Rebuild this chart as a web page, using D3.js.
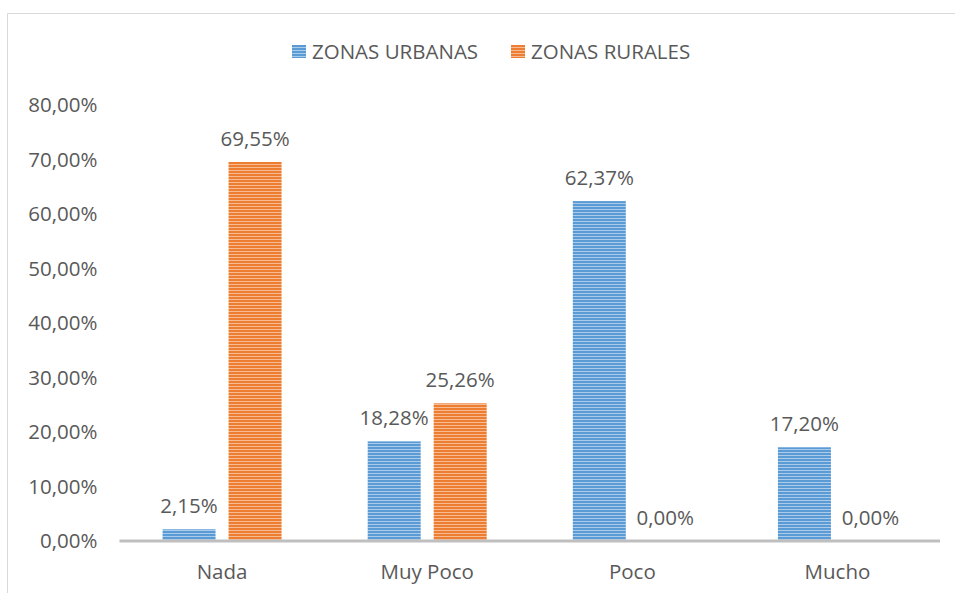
<!DOCTYPE html>
<html>
<head>
<meta charset="utf-8">
<script src="https://cdn.jsdelivr.net/npm/d3@7/dist/d3.min.js"></script>
<style>
  body { margin: 0; background: #fff; }
  text { font-family: "Open Sans", "Liberation Sans", sans-serif; fill: #595959; }
</style>
</head>
<body>
<div class="vis-bars"></div>
<script>
const categories = ["Nada", "Muy Poco", "Poco", "Mucho"];
const seriesNames = ["ZONAS URBANAS", "ZONAS RURALES"];
const urbanas = [2.15, 18.28, 62.37, 17.20];
const rurales = [69.55, 25.26, 0.00, 0.00];
const yTicks = [0, 10, 20, 30, 40, 50, 60, 70, 80];

const W = 955, H = 593;
const margin = {top: 105, right: 15, bottom: 52, left: 119.5};
const width = W - margin.left - margin.right;
const height = H - margin.top - margin.bottom;
const fontSize = "20.5px";

const fmt = v => v.toFixed(2).replace(".", ",") + "%";

const svg = d3.select(".vis-bars").append("svg")
    .attr("width", W).attr("height", H);

// stripe patterns
const defs = svg.append("defs");
const colors = [
    {id: "pat0", dark: "#5b9bd5", light: "#abcbeb"},
    {id: "pat1", dark: "#ed7d31", light: "#f7bb94"}
];
colors.forEach(c => {
    const p = defs.append("pattern")
        .attr("id", c.id)
        .attr("patternUnits", "userSpaceOnUse")
        .attr("width", 10).attr("height", 3);
    p.append("rect").attr("width", 10).attr("height", 3).attr("fill", c.light);
    p.append("rect").attr("width", 10).attr("height", 2).attr("fill", c.dark);
});

// chart border
svg.append("path")
    .attr("d", "M7.5," + H + "V13.5H" + W)
    .attr("fill", "none").attr("stroke", "#d9d9d9").attr("stroke-width", 1);

const g = svg.append("g")
    .attr("transform", "translate(" + margin.left + "," + margin.top + ")");

const x0 = d3.scaleBand().domain(categories).range([0, width]);
const y = d3.scaleLinear().domain([0, 80]).range([height, 0]);
const barW = 53, offset = 33;

// y axis labels
g.append("g")
    .call(d3.axisLeft(y).tickValues(yTicks).tickFormat(d => fmt(d)).tickSize(0).tickPadding(22))
    .call(a => a.select(".domain").remove())
    .selectAll("text")
    .style("font-size", fontSize)
    .style("fill", "#595959")
    .style("font-family", "'Open Sans', sans-serif");

const data = [urbanas, rurales];
data.forEach((vals, s) => {
    const cx = i => x0(categories[i]) + x0.bandwidth() / 2 + (s === 0 ? -offset : offset);
    g.selectAll(".bar" + s)
        .data(vals)
        .enter().append("rect")
        .attr("x", (d, i) => cx(i) - barW / 2)
        .attr("y", d => y(d))
        .attr("width", barW)
        .attr("height", d => y(0) - y(d))
        .attr("fill", "url(#pat" + s + ")");

    g.selectAll(".lbl" + s)
        .data(vals)
        .enter().append("text")
        .attr("x", (d, i) => cx(i))
        .attr("y", d => y(d) - 16)
        .attr("text-anchor", "middle")
        .style("font-size", fontSize)
        .text(d => fmt(d));
});

// x axis line
g.append("line")
    .attr("x1", 0).attr("x2", width)
    .attr("y1", y(0)).attr("y2", y(0))
    .attr("stroke", "#bfbfbf").attr("stroke-width", 3);

// category labels
g.append("g")
    .attr("transform", "translate(0," + height + ")")
    .call(d3.axisBottom(x0).tickSize(0).tickPadding(23))
    .call(a => a.select(".domain").remove())
    .selectAll("text")
    .style("font-size", fontSize)
    .style("fill", "#595959")
    .style("font-family", "'Open Sans', sans-serif");

// legend
const legendX = [292, 511];
seriesNames.forEach((name, i) => {
    const lg = svg.append("g").attr("transform", "translate(" + legendX[i] + ",45)");
    lg.append("rect").attr("width", 14).attr("height", 13)
        .attr("fill", "url(#pat" + i + ")");
    lg.append("text").attr("x", 20).attr("y", 13.5)
        .style("font-size", fontSize)
        .text(name);
});
</script>
</body>
</html>
